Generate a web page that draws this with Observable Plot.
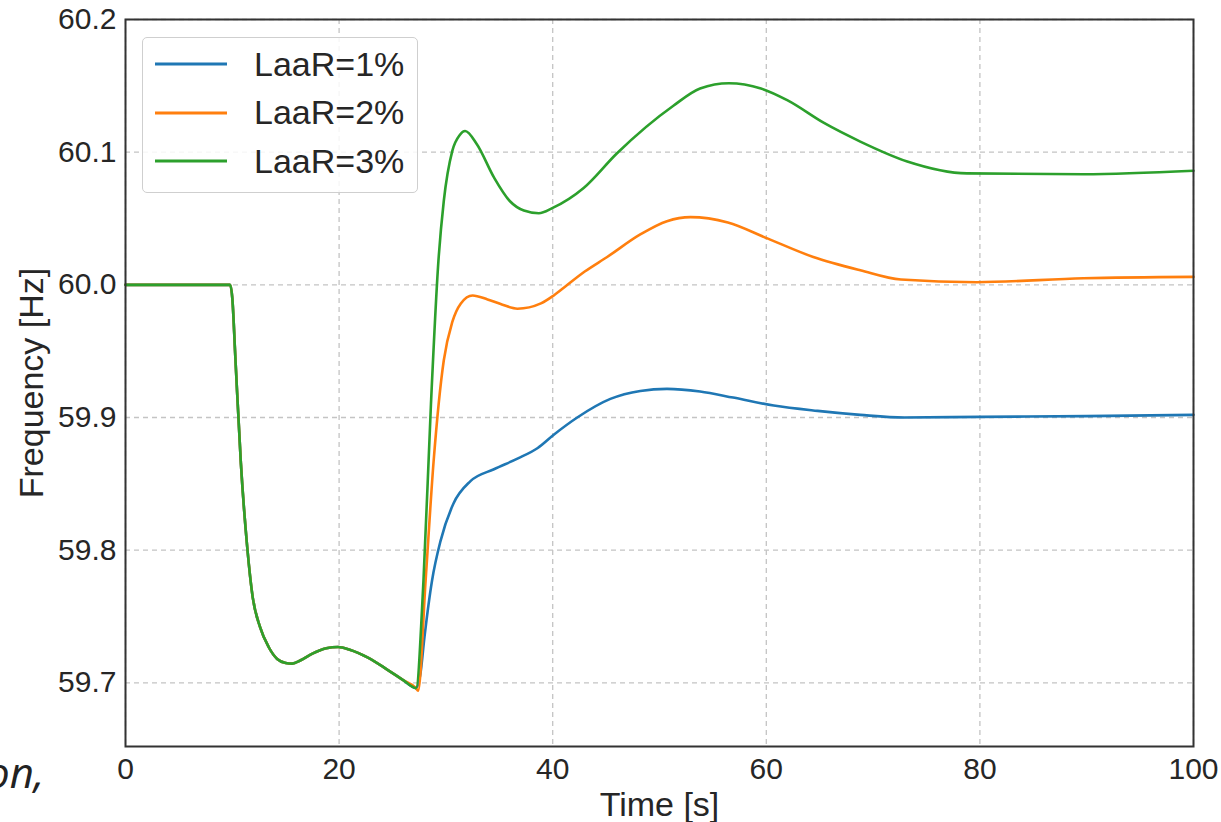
<!DOCTYPE html>
<html>
<head>
<meta charset="utf-8">
<script src="https://cdn.jsdelivr.net/npm/d3@7"></script>
<script src="https://cdn.jsdelivr.net/npm/@observablehq/plot@0.6"></script>
<style>
  html, body { margin: 0; padding: 0; background: #fff; }
  #wrap { position: relative; width: 1221px; height: 822px; overflow: hidden; font-family: "Liberation Sans", Arial, sans-serif; }
  #legend { position: absolute; left: 142px; top: 37px; width: 274px; height: 154px; border: 1.5px solid #cfcfcf; border-radius: 5px; background: rgba(255,255,255,0.85); }
  .row { position: absolute; left: 0; height: 40px; display: flex; align-items: center; }
  .row svg { margin-left: 12px; }
  .row span { margin-left: 27px; font-size: 34px; color: #262626; }
  #frag { position: absolute; left: -14px; top: 751px; font-family: "Open Sans", "Noto Sans", sans-serif; font-style: italic; font-size: 42px; line-height: 1; color: #222; white-space: nowrap; }
</style>
</head>
<body>
<div id="wrap">
  <div id="chart"></div>
  <div id="legend"></div>
  <div id="frag">on,</div>
</div>
<script>
// Series names and colours
const seriesNames = ["LaaR=1%", "LaaR=2%", "LaaR=3%"];
const seriesColors = ["#1f77b4", "#ff7f0e", "#2ca02c"];

// Shared part (all three curves coincide until the minimum near t = 27 s)
const commonT = [0, 5, 9.8, 10.0, 10.3, 10.8, 11.4, 11.9, 12.6, 13.4, 14.2, 15.0, 15.6, 16.4, 17.5, 18.8, 19.9, 21.0, 22.7, 24.5, 26.0, 27.2];
const commonF = [60.0, 60.0, 60.0, 59.99, 59.943, 59.866, 59.802, 59.765, 59.742, 59.727, 59.718, 59.715, 59.7145, 59.717, 59.722, 59.726, 59.727, 59.725, 59.719, 59.710, 59.702, 59.696];

// LaaR=1%
const blueT = [27.6, 28.0, 28.7, 29.5, 30.7, 32.3, 34.5, 36.7, 38.6, 40.1, 42.3, 45.4, 48.2, 50.7, 53.8, 56.9, 60.7, 64.8, 68.8, 72.9, 80, 90, 100];
const blueF = [59.706, 59.735, 59.777, 59.807, 59.835, 59.852, 59.861, 59.869, 59.877, 59.887, 59.900, 59.914, 59.920, 59.9216, 59.9196, 59.915, 59.909, 59.905, 59.902, 59.900, 59.9005, 59.901, 59.902];

// LaaR=2%
const orangeT = [27.4, 28.1, 28.85, 29.8, 30.6, 31.4, 32.5, 33.9, 35.3, 36.7, 38.9, 40.1, 41.3, 43.0, 45.1, 48.2, 50.7, 52.9, 56.4, 60.1, 64.4, 68.8, 72.6, 79.7, 89.7, 100];
const orangeF = [59.694, 59.777, 59.867, 59.943, 59.972, 59.986, 59.992, 59.989, 59.985, 59.982, 59.986, 59.992, 59.9995, 60.010, 60.021, 60.038, 60.048, 60.051, 60.047, 60.035, 60.021, 60.011, 60.004, 60.002, 60.005, 60.006];

// LaaR=3%
const greenT = [27.9, 28.6, 29.3, 29.8, 30.6, 31.3, 31.8, 32.9, 34.5, 36.0, 37.3, 38.7, 40.0, 42.9, 46.0, 51.3, 53.8, 56.5, 59.5, 62.0, 65.4, 68.8, 73.2, 78.8, 89.7, 100];
const greenF = [59.777, 59.91, 60.018, 60.063, 60.101, 60.113, 60.116, 60.106, 60.081, 60.063, 60.056, 60.054, 60.058, 60.073, 60.099, 60.135, 60.148, 60.152, 60.148, 60.139, 60.122, 60.108, 60.093, 60.084, 60.0834, 60.086];

// Axis ticks
const xTicks = [0, 20, 40, 60, 80, 100];
const yTicks = [59.7, 59.8, 59.9, 60.0, 60.1, 60.2];

const tails = [[blueT, blueF], [orangeT, orangeF], [greenT, greenF]];
const rows = tails.flatMap(([T, F], i) => {
  const ts = commonT.concat(T), fs = commonF.concat(F);
  return ts.map((t, j) => ({series: seriesNames[i], t, f: fs[j]}));
});

const font = '"Liberation Sans", Arial, sans-serif';

const chart = Plot.plot({
  width: 1221,
  height: 822,
  marginLeft: 125,
  marginRight: 28,
  marginTop: 19,
  marginBottom: 76,
  style: {fontFamily: font, color: "#262626", background: "#fff"},
  x: {domain: [0, 100]},
  y: {domain: [59.652, 60.2]},
  color: {domain: seriesNames, range: seriesColors},
  marks: [
    Plot.gridX(xTicks, {stroke: "#c4c4c4", strokeOpacity: 1, strokeWidth: 1.3, strokeDasharray: "5,4"}),
    Plot.gridY(yTicks, {stroke: "#c4c4c4", strokeOpacity: 1, strokeWidth: 1.3, strokeDasharray: "5,4"}),
    Plot.line(rows, {x: "t", y: "f", z: "series", stroke: "series", strokeWidth: 2.6, curve: "monotone-x"}),
    Plot.axisX(xTicks, {tickSize: 0, tickPadding: 11, fontSize: 30, label: "Time [s]", labelAnchor: "center", labelArrow: "none", labelOffset: 69}),
    Plot.axisY(yTicks, {tickSize: 0, tickPadding: 9, fontSize: 30, tickFormat: d3.format(".1f"), label: "Frequency [Hz]", labelAnchor: "center", labelArrow: "none", labelOffset: 107}),
    Plot.frame({stroke: "#333", strokeWidth: 2})
  ]
});
chart.querySelectorAll('[aria-label="x-axis label"] text, [aria-label="y-axis label"] text').forEach(t => t.setAttribute("font-size", 34));
document.getElementById("chart").appendChild(chart);

const legend = document.getElementById("legend");
seriesNames.forEach((name, i) => {
  const row = document.createElement("div");
  row.className = "row";
  row.style.top = (6 + i * 48.5) + "px";
  row.innerHTML = `<svg width="72" height="6"><line x1="0" x2="72" y1="3" y2="3" stroke="${seriesColors[i]}" stroke-width="3"/></svg><span>${name}</span>`;
  legend.appendChild(row);
});
</script>
</body>
</html>
